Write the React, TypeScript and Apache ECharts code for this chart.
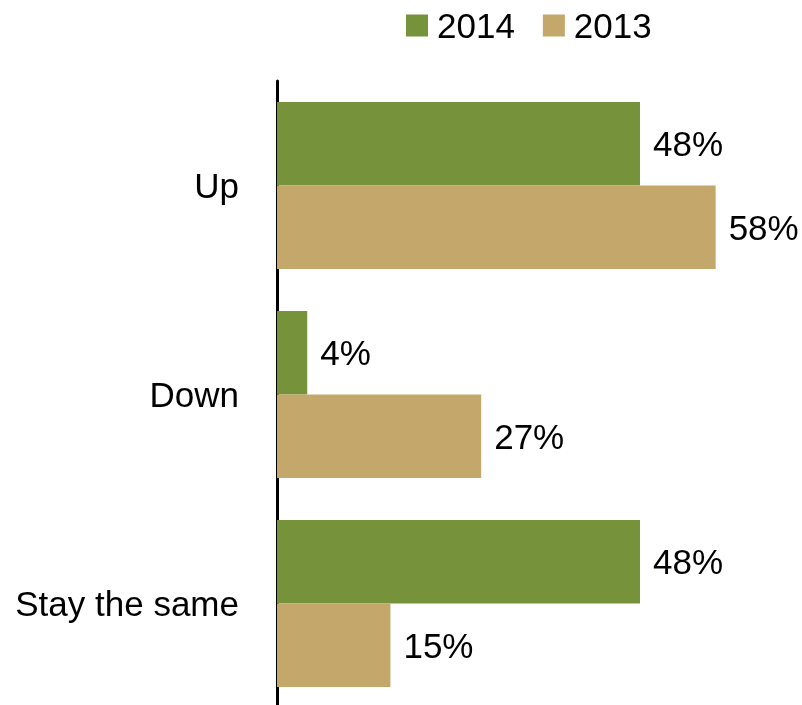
import React, { useEffect, useRef } from "react";
import * as echarts from "echarts";

const categories = ["Up", "Down", "Stay the same"];
const series2014 = [48, 4, 48];
const series2013 = [58, 27, 15];
const seriesNames = ["2014", "2013"];

export default function App() {
  const ref = useRef<HTMLDivElement>(null);
  useEffect(() => {
    if (!ref.current) return;
    const chart = echarts.init(ref.current, null, { renderer: "svg" });
    const font = "'Liberation Sans', Arial, sans-serif";
    const fs = 35;
    const labelCfg = {
      show: true,
      position: "right",
      distance: 13,
      formatter: "{c}%",
      color: "#000",
      fontSize: fs,
      fontFamily: font,
    };
    chart.setOption({
      animation: false,
      textStyle: { fontFamily: font },
      legend: {
        data: seriesNames,
        top: 3,
        left: 401,
        itemWidth: 22,
        itemHeight: 22,
        itemGap: 28,
        icon: "rect",
        textStyle: { fontSize: fs, color: "#000", fontFamily: font, padding: [0, 0, 0, 4] },
      },
      grid: {
        left: 277,
        top: 81,
        width: 453.75,
        height: 627,
        containLabel: false,
        outerBoundsMode: "none",
      },
      xAxis: {
        type: "value",
        min: 0,
        max: 60,
        show: false,
      },
      yAxis: {
        type: "category",
        data: categories,
        inverse: true,
        offset: 1.5,
        axisLine: { show: true, lineStyle: { color: "#000", width: 3 } },
        axisTick: { show: false },
        axisLabel: { fontSize: fs, color: "#000", fontFamily: font, margin: 36.5 },
      },
      series: [
        {
          name: seriesNames[0],
          type: "bar",
          data: series2014,
          itemStyle: { color: "#76933C" },
          barGap: "0%",
          barCategoryGap: "20%",
          label: labelCfg,
        },
        {
          name: seriesNames[1],
          type: "bar",
          data: series2013,
          itemStyle: { color: "#C4A76B" },
          barGap: "0%",
          barCategoryGap: "20%",
          label: labelCfg,
        },
      ],
    });
    return () => chart.dispose();
  }, []);
  return (
    <div
      ref={ref}
      style={{ position: "fixed", left: 0, top: 0, width: 802, height: 705, overflow: "hidden" }}
    />
  );
}
